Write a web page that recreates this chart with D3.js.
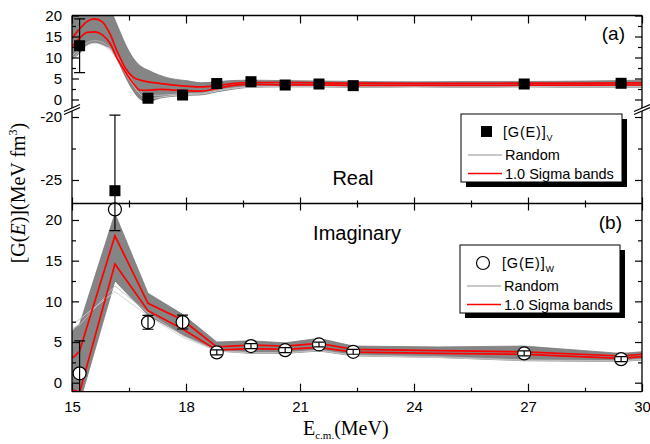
<!DOCTYPE html>
<html>
<head>
<meta charset="utf-8">
<script src="https://cdn.jsdelivr.net/npm/d3@7"></script>
<style>
  body { margin: 0; background: #fff; }
  svg { display: block; }
  text { font-family: "Liberation Sans", Arial, sans-serif; fill: #000; }
  .serif { font-family: "Liberation Serif", "Times New Roman", serif; }
</style>
</head>
<body>
<svg id="chart" width="650" height="444"></svg>
<script>
// ---- measured points ----
const energy  = [15.2, 16.13, 17.0, 17.91, 18.81, 19.71, 20.61, 21.5, 22.4, 26.9, 29.45];
const realG   = [12.8, -25.85, 0.3, 1.07, 3.8, 4.24, 3.45, 3.69, 3.3, 3.69, 3.86];
const realErr = [6.4, 6.0, 0.3, 0.3, 0.3, 0.3, 0.3, 0.3, 0.3, 0.3, 0.3];
const imagG   = [1.15, 21.3, 7.42, 7.45, 3.73, 4.5, 4.0, 4.7, 3.8, 3.6, 2.9];
const imagErr = [4.0, 2.6, 0.85, 0.85, 0.3, 0.3, 0.3, 0.3, 0.3, 0.3, 0.3];

// ---- real part: random fits and 1 sigma bands ----
const gridReal       = [15, 15.2, 15.4, 15.6, 15.8, 16.0, 16.2, 16.4, 16.6, 16.8, 17.0, 17.3, 17.6, 18.0, 18.4, 18.8, 19.2, 19.7, 20.5, 21.5, 22.5, 24, 25.5, 27, 28.5, 30];
const realSigmaHi    = [14.6, 16.8, 18.6, 19.2, 18.5, 15.6, 11.2, 7.5, 5.4, 4.6, 4.2, 3.85, 3.5, 3.2, 3.0, 3.3, 3.8, 4.05, 4.05, 3.95, 3.9, 3.85, 3.85, 3.9, 3.9, 3.95];
const realSigmaLo    = [12.6, 14.6, 16.0, 16.1, 15.4, 13.4, 9.6, 6.6, 4.0, 2.2, 2.2, 2.4, 2.3, 2.1, 2.0, 2.6, 3.3, 3.6, 3.5, 3.45, 3.35, 3.35, 3.35, 3.4, 3.4, 3.45];
const realRandomHi   = [19.6, 21.5, 23.5, 24.5, 23.5, 21.5, 17.5, 13.3, 10.0, 8.0, 7.0, 5.8, 5.0, 4.5, 4.0, 4.2, 4.5, 4.6, 4.5, 4.4, 4.3, 4.2, 4.3, 4.3, 4.4, 4.6];
const realRandomLo   = [9.5, 11.0, 13.0, 13.6, 13.0, 12.2, 9.3, 5.5, 2.2, 0.0, -0.6, 0.3, 0.7, 1.0, 1.1, 1.8, 2.4, 2.9, 3.0, 3.0, 2.9, 3.0, 2.9, 3.0, 2.9, 2.9];
const realRandomOut1 = [9.6, 11.4, 12.9, 13.4, 13.0, 11.6, 9.4, 6.3, 3.5, 1.2, 0.2, 0.5, 0.9, 1.2, 1.3, 2.0, 2.6, 3.0, 3.1, 3.1, 3.0, 3.1, 3.0, 3.1, 3.0, 3.0];
const realRandomOut2 = [10.4, 12.0, 13.5, 14.0, 13.6, 12.4, 10.2, 7.2, 4.3, 2.0, 1.0, 1.0, 1.2, 1.4, 1.5, 2.2, 2.7, 3.1, 3.2, 3.2, 3.1, 3.2, 3.1, 3.2, 3.1, 3.1];

// ---- imaginary part: random fits and 1 sigma bands ----
const gridImag       = [15, 15.1, 15.2, 16.13, 17.0, 17.91, 18.81, 19.71, 20.61, 21.5, 22.4, 24.65, 26.9, 29.45, 30];
const imagSigmaHi    = [3.0, 3.4, 3.9, 18.06, 9.75, 7.7, 4.4, 4.63, 4.5, 4.84, 4.1, 3.95, 3.8, 3.28, 3.5];
const imagSigmaLo    = [-0.9, -1.0, -1.2, 14.6, 8.85, 6.6, 4.0, 4.2, 4.1, 4.35, 3.77, 3.6, 3.49, 3.0, 3.2];
const imagRandomHi   = [6.3, 6.8, 7.2, 20.8, 11.0, 8.4, 5.0, 5.15, 4.9, 5.45, 4.5, 4.4, 4.5, 3.6, 3.8];
const imagRandomLo   = [-2.0, -2.0, -2.5, 12.5, 8.3, 5.9, 3.9, 3.6, 3.6, 3.9, 3.3, 3.1, 2.7, 2.6, 2.8];
const imagRandomOut1 = [7.3, 7.5, 7.8, 11.2, 8.2, 5.6, 3.9, 3.65, 3.65, 3.95, 3.35, 3.1, 2.75, 2.65, 2.85];
const imagRandomOut2 = [6.6, 6.9, 7.1, 11.9, 8.6, 5.8, 4.0, 3.7, 3.7, 4.0, 3.4, 3.2, 2.8, 2.7, 2.9];

// ---- tick values ----
const xMajor      = [15, 18, 21, 24, 27, 30];
const xMinor      = [16.5, 19.5, 22.5, 25.5, 28.5];
const yUpMajor    = [0, 5, 10, 15, 20];
const yUpMinor    = [2.5, 7.5, 12.5, 17.5];
const yLowMajor   = [-20, -25];
const yLowMinor   = [-22.5];
const yImMajor    = [0, 5, 10, 15, 20];
const yImMinor    = [2.5, 7.5, 12.5, 17.5];

// ---- geometry ----
const L = 72, R = 642, T = 15.5, MID = 203.5, B = 391.7;
const BRK = 108;             // centre of the axis break in panel (a)
const UP_BOTTOM = 106, LOW_TOP = 110;

const svg = d3.select("#chart");
const x    = d3.scaleLinear().domain([15, 30]).range([L, R]);
const yUp  = d3.scaleLinear().domain([0, 20]).range([99.5, T]);
const yLow = d3.scaleLinear().domain([-20, -25]).range([117, 180]);
const yIm  = d3.scaleLinear().domain([0, 20]).range([382.7, 220]);

const defs = svg.append("defs");
function clip(id, y0, y1) {
  defs.append("clipPath").attr("id", id)
    .append("rect").attr("x", L).attr("y", y0).attr("width", R - L).attr("height", y1 - y0);
}
clip("cUp", T, UP_BOTTOM);
clip("cLow", LOW_TOP, MID);
clip("cIm", MID, B);

function zipGrid(grid, vals) { return grid.map((g, i) => ({ x: g, y: vals[i] })); }

function drawBand(g, grid, lo, hi, ys, curve) {
  const data = grid.map((gx, i) => ({ x: gx, lo: lo[i], hi: hi[i] }));
  g.append("path").datum(data)
    .attr("d", d3.area().x(d => x(d.x)).y0(d => ys(d.lo)).y1(d => ys(d.hi)).curve(curve))
    .attr("fill", "#858585").attr("stroke", "#7a7a7a").attr("stroke-width", 0.8);
}
function drawLine(g, grid, vals, ys, curve, color, width) {
  g.append("path").datum(zipGrid(grid, vals))
    .attr("d", d3.line().x(d => x(d.x)).y(d => ys(d.y)).curve(curve))
    .attr("fill", "none").attr("stroke", color).attr("stroke-width", width);
}

// ---- panel (a): curves ----
const gA = svg.append("g").attr("clip-path", "url(#cUp)");
drawBand(gA, gridReal, realRandomLo, realRandomHi, yUp, d3.curveMonotoneX);
drawLine(gA, gridReal, realRandomOut1, yUp, d3.curveMonotoneX, "#cfcfcf", 0.9);
drawLine(gA, gridReal, realRandomOut2, yUp, d3.curveMonotoneX, "#bdbdbd", 0.9);
drawLine(gA, gridReal, realSigmaHi, yUp, d3.curveMonotoneX, "#ff0000", 1.7);
drawLine(gA, gridReal, realSigmaLo, yUp, d3.curveMonotoneX, "#ff0000", 1.7);

// ---- panel (b): curves ----
const gB = svg.append("g").attr("clip-path", "url(#cIm)");
drawBand(gB, gridImag, imagRandomLo, imagRandomHi, yIm, d3.curveLinear);
drawLine(gB, gridImag, imagRandomOut1, yIm, d3.curveLinear, "#cfcfcf", 0.9);
drawLine(gB, gridImag, imagRandomOut2, yIm, d3.curveLinear, "#bdbdbd", 0.9);
drawLine(gB, gridImag, imagSigmaHi, yIm, d3.curveLinear, "#ff0000", 1.7);
drawLine(gB, gridImag, imagSigmaLo, yIm, d3.curveLinear, "#ff0000", 1.7);

// ---- error bars ----
function errorBar(parent, cx, v, e, ys) {
  const yA = ys(v + e), yB = ys(v - e);
  parent.append("line").attr("x1", cx).attr("x2", cx).attr("y1", yA).attr("y2", yB)
    .attr("stroke", "#000").attr("stroke-width", 1.2);
  [yA, yB].forEach(yy => parent.append("line")
    .attr("x1", cx - 5.5).attr("x2", cx + 5.5).attr("y1", yy).attr("y2", yy)
    .attr("stroke", "#000").attr("stroke-width", 1.2));
}

// real squares: values >= -2 live in the upper segment, the rest below the break
const gAe = svg.append("g").attr("clip-path", "url(#cUp)");
const gLe = svg.append("g").attr("clip-path", "url(#cLow)");
energy.forEach((e, i) => {
  const upper = realG[i] > -2;
  errorBar(upper ? gAe : gLe, x(e), realG[i], realErr[i], upper ? yUp : yLow);
});
const gSq = svg.append("g");
energy.forEach((e, i) => {
  const ys = realG[i] > -2 ? yUp : yLow;
  gSq.append("rect").attr("x", x(e) - 5.5).attr("y", ys(realG[i]) - 5.5)
    .attr("width", 11).attr("height", 11).attr("fill", "#000");
});

// imaginary circles: white fill, error bar drawn over the marker
const gCi = svg.append("g");
energy.forEach((e, i) => {
  gCi.append("circle").attr("cx", x(e)).attr("cy", yIm(imagG[i])).attr("r", 6.5)
    .attr("fill", "#fff").attr("stroke", "#000").attr("stroke-width", 1.2);
});
const gBe = svg.append("g").attr("clip-path", "url(#cIm)");
energy.forEach((e, i) => errorBar(gBe, x(e), imagG[i], imagErr[i], yIm));

// ---- frame and axes ----
const frame = svg.append("g").attr("stroke", "#000").attr("stroke-width", 1.3);
frame.append("line").attr("x1", L).attr("x2", R).attr("y1", T).attr("y2", T);
frame.append("line").attr("x1", L).attr("x2", R).attr("y1", MID).attr("y2", MID);
frame.append("line").attr("x1", L).attr("x2", R).attr("y1", B).attr("y2", B);
[L, R].forEach(xx => {
  frame.append("line").attr("x1", xx).attr("x2", xx).attr("y1", T).attr("y2", B);
});

function noDomain(g) { g.select(".domain").remove(); }
function tickStyle(g) { g.selectAll(".tick line").attr("stroke", "#000").attr("stroke-width", 1.2); }
function labelStyle(g) { g.selectAll(".tick text").attr("font-size", 15).attr("fill", "#000"); }
function fmt(d) { return String(d); }

function addAxis(gen, tx, ty, labels) {
  const g = svg.append("g").attr("transform", `translate(${tx},${ty})`).call(gen);
  g.call(noDomain).call(tickStyle);
  if (labels) g.call(labelStyle); else g.selectAll(".tick text").remove();
  return g;
}

// x axis: bottom (labelled), divider (both sides), top
addAxis(d3.axisBottom(x).tickValues(xMajor).tickSize(-8).tickPadding(10).tickFormat(d3.format("d")), 0, B, true);
addAxis(d3.axisBottom(x).tickValues(xMinor).tickSize(-4), 0, B, false);
addAxis(d3.axisTop(x).tickValues(xMajor).tickSize(-8), 0, T, false);
addAxis(d3.axisTop(x).tickValues(xMinor).tickSize(-5), 0, T, false);
addAxis(d3.axisTop(x).tickValues(xMajor).tickSize(6), 0, MID, false);
addAxis(d3.axisBottom(x).tickValues(xMajor).tickSize(7), 0, MID, false);
addAxis(d3.axisTop(x).tickValues(xMinor).tickSize(3), 0, MID, false);
addAxis(d3.axisBottom(x).tickValues(xMinor).tickSize(4), 0, MID, false);

// y axes, left (labelled) and right
function yAxes(scale, major, minor) {
  addAxis(d3.axisLeft(scale).tickValues(major).tickSize(-7).tickPadding(10).tickFormat(fmt), L, 0, true);
  addAxis(d3.axisLeft(scale).tickValues(minor).tickSize(-4), L, 0, false);
  addAxis(d3.axisRight(scale).tickValues(major).tickSize(-7), R, 0, false);
  addAxis(d3.axisRight(scale).tickValues(minor).tickSize(-4), R, 0, false);
}
yAxes(yUp, yUpMajor, yUpMinor);
yAxes(yLow, yLowMajor, yLowMinor);
yAxes(yIm, yImMajor, yImMinor);

// axis break marks
[L, R].forEach(xx => {
  const brk = svg.append("g");
  brk.append("polygon")
    .attr("points", `${xx - 8},${BRK + 3.5} ${xx + 8},${BRK - 3.5} ${xx + 8},${BRK - 0.5} ${xx - 8},${BRK + 6.5}`)
    .attr("fill", "#fff");
  [0, 3].forEach(off => brk.append("line")
    .attr("x1", xx - 8).attr("y1", BRK + 3.5 + off).attr("x2", xx + 8).attr("y2", BRK - 3.5 + off)
    .attr("stroke", "#000").attr("stroke-width", 1.2));
});

// ---- axis titles ----
const xt = svg.append("text").attr("class", "serif").attr("x", 303).attr("y", 435).attr("font-size", 20);
xt.append("tspan").text("E");
xt.append("tspan").attr("font-size", 11).attr("dy", 4).text("c.m.");
xt.append("tspan").attr("dy", -4).text("(MeV)");

const yt = svg.append("text").attr("class", "serif").attr("font-size", 20)
  .attr("text-anchor", "middle").attr("transform", "translate(25,193) rotate(-90)");
yt.append("tspan").text("[G(");
yt.append("tspan").attr("font-style", "italic").text("E");
yt.append("tspan").text(")](MeV fm");
yt.append("tspan").attr("font-size", 12).attr("dy", -8).text("3");
yt.append("tspan").attr("dy", 8).text(")");

// ---- panel annotations ----
svg.append("text").attr("x", 625).attr("y", 40).attr("font-size", 19).attr("text-anchor", "end").text("(a)");
svg.append("text").attr("x", 622).attr("y", 229).attr("font-size", 19).attr("text-anchor", "end").text("(b)");
svg.append("text").attr("x", 353).attr("y", 185).attr("font-size", 20).attr("text-anchor", "middle").text("Real");
svg.append("text").attr("x", 357).attr("y", 240).attr("font-size", 20).attr("text-anchor", "middle").text("Imaginary");

// ---- legends ----
function legend(x0, y0, w, h, marker, sub) {
  const g = svg.append("g");
  g.append("rect").attr("x", x0 + 5).attr("y", y0 + 5).attr("width", w).attr("height", h).attr("fill", "#000");
  g.append("rect").attr("x", x0).attr("y", y0).attr("width", w).attr("height", h)
    .attr("fill", "#fff").attr("stroke", "#000").attr("stroke-width", 1);
  if (marker === "square") {
    g.append("rect").attr("x", x0 + 20).attr("y", y0 + 12).attr("width", 11).attr("height", 11).attr("fill", "#000");
  } else {
    g.append("circle").attr("cx", x0 + 23).attr("cy", y0 + 18).attr("r", 6.5)
      .attr("fill", "#fff").attr("stroke", "#000").attr("stroke-width", 1.2);
  }
  const t1 = g.append("text").attr("x", x0 + 42).attr("y", y0 + 23).attr("font-size", 14.5).attr("letter-spacing", 0.8);
  t1.append("tspan").text("[G(E)]");
  t1.append("tspan").attr("font-size", 9).attr("dy", 4).attr("letter-spacing", 0).text(sub);
  g.append("line").attr("x1", x0 + 7).attr("x2", x0 + 41).attr("y1", y0 + 41).attr("y2", y0 + 41)
    .attr("stroke", "#b4b4b4").attr("stroke-width", 1.5);
  g.append("text").attr("x", x0 + 44).attr("y", y0 + 46).attr("font-size", 14.5).text("Random");
  g.append("line").attr("x1", x0 + 7).attr("x2", x0 + 41).attr("y1", y0 + 59.5).attr("y2", y0 + 59.5)
    .attr("stroke", "#ff0000").attr("stroke-width", 1.5);
  g.append("text").attr("x", x0 + 44).attr("y", y0 + 64.5).attr("font-size", 14.5).text("1.0 Sigma bands");
}
legend(461, 114, 161, 68, "square", "V");
legend(460, 245, 160, 68, "circle", "W");
</script>
</body>
</html>
